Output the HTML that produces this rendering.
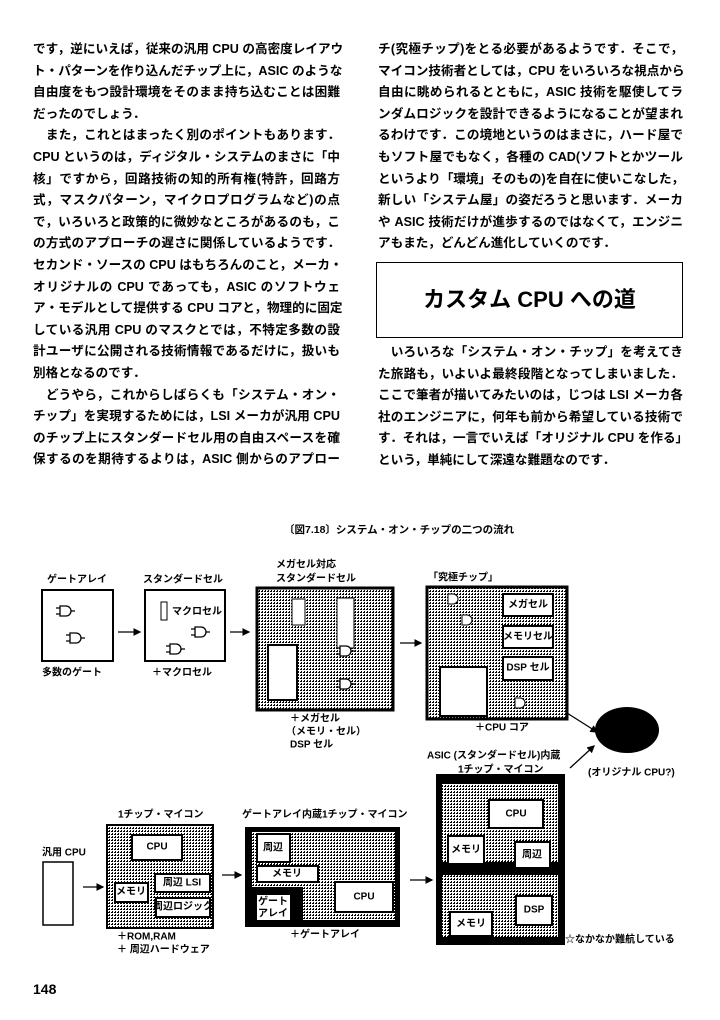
<!DOCTYPE html>
<html><head><meta charset="utf-8">
<style>
html,body{margin:0;padding:0;background:#fff;}
body{width:720px;height:1020px;position:relative;overflow:hidden;font-family:"Liberation Sans","Noto Sans CJK JP",sans-serif;color:#000;}
.col{position:absolute;font-size:12.6px;font-weight:bold;line-height:21.6px;}
.col div{height:21.6px;white-space:nowrap;text-align:justify;text-align-last:justify;}
.col div.s{text-align-last:left;}
#L{left:33px;top:39px;width:307px;}
#R1{left:378px;top:39px;width:305px;}
#R2{left:378px;top:342px;width:305px;}
#box{position:absolute;left:376px;top:262px;width:305px;height:74px;border:1.5px solid #000;font-size:22px;font-weight:bold;text-align:center;line-height:74px;}
#cap{position:absolute;left:284px;top:522px;font-size:10.5px;font-weight:bold;}
#pg{position:absolute;left:33px;top:981px;font-size:14px;font-weight:bold;}
svg{position:absolute;left:0;top:0;}
svg text{font-family:"Liberation Sans","Noto Sans CJK JP",sans-serif;font-weight:bold;font-size:10px;dominant-baseline:central;}
</style></head><body>
<div class="col" id="L">
<div>です，逆にいえば，従来の汎用 CPU の高密度レイアウ</div>
<div>ト・パターンを作り込んだチップ上に，ASIC のような</div>
<div>自由度をもつ設計環境をそのまま持ち込むことは困難</div>
<div class="s">だったのでしょう．</div>
<div>　また，これとはまったく別のポイントもあります．</div>
<div>CPU というのは，ディジタル・システムのまさに「中</div>
<div>核」ですから，回路技術の知的所有権(特許，回路方</div>
<div>式，マスクパターン，マイクロプログラムなど)の点</div>
<div>で，いろいろと政策的に微妙なところがあるのも，こ</div>
<div>の方式のアプローチの遅さに関係しているようです．</div>
<div>セカンド・ソースの CPU はもちろんのこと，メーカ・</div>
<div>オリジナルの CPU であっても，ASIC のソフトウェ</div>
<div>ア・モデルとして提供する CPU コアと，物理的に固定</div>
<div>している汎用 CPU のマスクとでは，不特定多数の設</div>
<div>計ユーザに公開される技術情報であるだけに，扱いも</div>
<div class="s">別格となるのです．</div>
<div>　どうやら，これからしばらくも「システム・オン・</div>
<div>チップ」を実現するためには，LSI メーカが汎用 CPU</div>
<div>のチップ上にスタンダードセル用の自由スペースを確</div>
<div>保するのを期待するよりは，ASIC 側からのアプロー</div>
</div>
<div class="col" id="R1">
<div>チ(究極チップ)をとる必要があるようです．そこで，</div>
<div>マイコン技術者としては，CPU をいろいろな視点から</div>
<div>自由に眺められるとともに，ASIC 技術を駆使してラ</div>
<div>ンダムロジックを設計できるようになることが望まれ</div>
<div>るわけです．この境地というのはまさに，ハード屋で</div>
<div>もソフト屋でもなく，各種の CAD(ソフトとかツール</div>
<div>というより「環境」そのもの)を自在に使いこなした，</div>
<div>新しい「システム屋」の姿だろうと思います．メーカ</div>
<div>や ASIC 技術だけが進歩するのではなくて，エンジニ</div>
<div class="s">アもまた，どんどん進化していくのです．</div>
</div>
<div id="box">カスタム CPU への道</div>
<div class="col" id="R2">
<div>　いろいろな「システム・オン・チップ」を考えてき</div>
<div>た旅路も，いよいよ最終段階となってしまいました．</div>
<div>ここで筆者が描いてみたいのは，じつは LSI メーカ各</div>
<div>社のエンジニアに，何年も前から希望している技術で</div>
<div>す．それは，一言でいえば「オリジナル CPU を作る」</div>
<div class="s">という，単純にして深遠な難題なのです．</div>
</div>
<div id="cap">〔図7.18〕システム・オン・チップの二つの流れ</div>
<div id="pg">148</div>

<svg width="720" height="1020" viewBox="0 0 720 1020">
<defs>
<pattern id="g" width="3" height="3" patternUnits="userSpaceOnUse">
<rect width="3" height="3" fill="#fff"/><rect width="2" height="1" fill="#000"/><rect x="1" y="2" width="1" height="1" fill="#000"/>
</pattern>
<marker id="a" markerWidth="6" markerHeight="6" refX="5" refY="3" orient="auto"><path d="M0,0 L6,3 L0,6 z" fill="#000"/></marker>
<g id="gate"><path d="M0,-5 h6 a5,5 0 0 1 0,10 h-6 z" fill="#fff" stroke="#000" stroke-width="1.3"/><path d="M-4,-3 h4 M-4,3 h4 M11,0 h4" stroke="#000" stroke-width="1.3"/></g>
</defs>
<g stroke="#000" fill="none" stroke-width="1.3">
<line x1="118" y1="632" x2="140" y2="632" marker-end="url(#a)"/>
<line x1="230" y1="632" x2="249" y2="632" marker-end="url(#a)"/>
<line x1="400" y1="643" x2="421" y2="643" marker-end="url(#a)"/>
<line x1="567" y1="713" x2="597" y2="732" marker-end="url(#a)"/>
<line x1="570" y1="768" x2="594" y2="746" marker-end="url(#a)"/>
<line x1="83" y1="887" x2="103" y2="887" marker-end="url(#a)"/>
<line x1="222" y1="875" x2="241" y2="875" marker-end="url(#a)"/>
<line x1="410" y1="880" x2="432" y2="880" marker-end="url(#a)"/>
</g>
<text x="47" y="580">ゲートアレイ</text>
<rect x="42" y="590" width="71" height="71" fill="#fff" stroke="#000" stroke-width="2"/>
<use href="#gate" x="60" y="611"/><use href="#gate" x="70" y="638"/>
<text x="42" y="673" font-size="9">多数のゲート</text>
<text x="143" y="580">スタンダードセル</text>
<rect x="145" y="590" width="80" height="71" fill="#fff" stroke="#000" stroke-width="2"/>
<rect x="161" y="602" width="6" height="18" fill="#fff" stroke="#000"/>
<text x="172" y="612" font-size="9">マクロセル</text>
<use href="#gate" x="195" y="632"/><use href="#gate" x="170" y="649"/>
<text x="152" y="673">＋マクロセル</text>
<text x="276" y="565">メガセル対応</text><text x="276" y="579">スタンダードセル</text>
<rect x="257" y="588" width="136" height="122" fill="url(#g)" stroke="#000" stroke-width="3"/>
<rect x="292" y="599" width="13" height="26" fill="#fff" stroke="#000"/>
<rect x="337" y="598" width="17" height="50" fill="#fff" stroke="#000"/>
<rect x="268" y="645" width="29" height="55" fill="#fff" stroke="#000" stroke-width="2"/>
<use href="#gate" x="340" y="651"/><use href="#gate" x="340" y="684"/>
<text x="290" y="719">＋メガセル</text>
<text x="286" y="732">（メモリ・セル）</text>
<text x="290" y="745">DSP セル</text>
<text x="428" y="578">「究極チップ」</text>
<rect x="427" y="587" width="140" height="132" fill="url(#g)" stroke="#000" stroke-width="3"/>
<rect x="503" y="594" width="50" height="22" fill="#fff" stroke="#000" stroke-width="2"/>
<text x="528" y="605" text-anchor="middle" font-size="9">メガセル</text>
<rect x="503" y="626" width="50" height="22" fill="#fff" stroke="#000" stroke-width="2"/>
<text x="528" y="637" text-anchor="middle" font-size="9">メモリセル</text>
<rect x="503" y="657" width="50" height="23" fill="#fff" stroke="#000" stroke-width="2"/>
<text x="528" y="668" text-anchor="middle" font-size="9">DSP セル</text>
<rect x="440" y="667" width="47" height="49" fill="#fff" stroke="#000" stroke-width="2"/>
<path d="M448,594 h5 a5,5 0 0 1 0,10 h-5 z M462,615 h5 a5,5 0 0 1 0,10 h-5 z M515,698 h5 a5,5 0 0 1 0,10 h-5 z" fill="#fff" stroke="#000"/>
<text x="475" y="728">＋CPU コア</text>
<ellipse cx="627" cy="730" rx="32" ry="23" fill="#000"/>
<text x="588" y="773" font-size="9">(オリジナル CPU?)</text>
<text x="427" y="756" font-size="9.5">ASIC (スタンダードセル)内蔵</text>
<text x="458" y="770">1チップ・マイコン</text>
<rect x="436" y="774" width="129" height="171" fill="#000"/>
<rect x="442" y="784" width="116" height="78" fill="url(#g)"/>
<rect x="442" y="875" width="116" height="62" fill="url(#g)"/>
<rect x="489" y="800" width="54" height="28" fill="#fff" stroke="#000" stroke-width="2"/>
<text x="516" y="814" text-anchor="middle">CPU</text>
<rect x="448" y="836" width="36" height="28" fill="#fff" stroke="#000" stroke-width="2"/>
<text x="466" y="850" text-anchor="middle" font-size="9">メモリ</text>
<rect x="515" y="842" width="35" height="26" fill="#fff" stroke="#000" stroke-width="2"/>
<text x="532" y="855" text-anchor="middle" font-size="9">周辺</text>
<rect x="516" y="896" width="36" height="29" fill="#fff" stroke="#000" stroke-width="2"/>
<text x="534" y="910" text-anchor="middle">DSP</text>
<rect x="450" y="912" width="42" height="24" fill="#fff" stroke="#000" stroke-width="2"/>
<text x="471" y="924" text-anchor="middle" font-size="9">メモリ</text>
<text x="565" y="940" font-size="9">☆なかなか難航している</text>
<text x="42" y="853">汎用 CPU</text>
<rect x="43" y="862" width="30" height="63" fill="#fff" stroke="#000" stroke-width="1.5"/>
<text x="118" y="815">1チップ・マイコン</text>
<rect x="107" y="825" width="106" height="103" fill="url(#g)" stroke="#000" stroke-width="2"/>
<rect x="132" y="835" width="50" height="25" fill="#fff" stroke="#000" stroke-width="2"/>
<text x="157" y="847" text-anchor="middle" font-size="9">CPU</text>
<rect x="155" y="874" width="55" height="18" fill="#fff" stroke="#000" stroke-width="2"/>
<text x="182" y="883" text-anchor="middle" font-size="9">周辺 LSI</text>
<rect x="115" y="883" width="33" height="19" fill="#fff" stroke="#000" stroke-width="2"/>
<text x="131" y="892" text-anchor="middle" font-size="9">メモリ</text>
<rect x="156" y="898" width="54" height="19" fill="#fff" stroke="#000" stroke-width="2"/>
<text x="183" y="907" text-anchor="middle" font-size="8">周辺ロジック</text>
<text x="117" y="937" font-size="9">＋ROM,RAM</text>
<text x="117" y="950" font-size="9">＋ 周辺ハードウェア</text>
<text x="242" y="815">ゲートアレイ内蔵1チップ・マイコン</text>
<rect x="245" y="827" width="155" height="100" fill="#000"/>
<rect x="252" y="832" width="143" height="55" fill="url(#g)"/>
<rect x="303" y="880" width="92" height="40" fill="url(#g)"/>
<rect x="257" y="834" width="33" height="28" fill="#fff" stroke="#000" stroke-width="2"/>
<text x="273" y="848" text-anchor="middle" font-size="9">周辺</text>
<rect x="257" y="866" width="61" height="16" fill="#fff" stroke="#000" stroke-width="2"/>
<text x="287" y="874" text-anchor="middle" font-size="9">メモリ</text>
<rect x="257" y="895" width="33" height="25" fill="#fff"/>
<text x="273" y="902" text-anchor="middle" font-size="9">ゲート</text>
<text x="273" y="914" text-anchor="middle" font-size="9">アレイ</text>
<rect x="335" y="882" width="58" height="30" fill="#fff" stroke="#000" stroke-width="2"/>
<text x="364" y="897" text-anchor="middle" font-size="9">CPU</text>
<text x="290" y="935" font-size="9">＋ゲートアレイ</text>
</svg>
</body></html>
